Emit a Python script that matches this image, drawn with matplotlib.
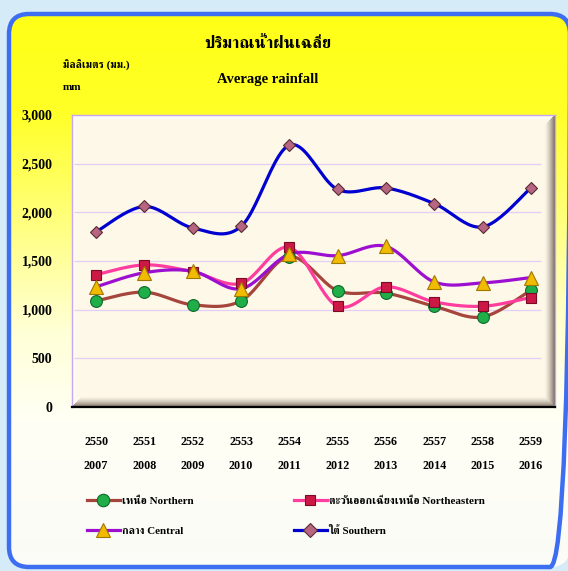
import numpy as np
import matplotlib
matplotlib.use('Agg')
import matplotlib.pyplot as plt
from matplotlib.patches import FancyBboxPatch
from matplotlib.lines import Line2D
from matplotlib import font_manager
from matplotlib.ft2font import FT2Font
import matplotlib.transforms as mtrans

# ---------------- data ----------------
be_years = ['2550', '2551', '2552', '2553', '2554', '2555', '2556', '2557', '2558', '2559']
ce_years = ['2007', '2008', '2009', '2010', '2011', '2012', '2013', '2014', '2015', '2016']
northern = [1090, 1180, 1050, 1090, 1545, 1195, 1170, 1035, 925, 1200]
northeastern = [1360, 1460, 1390, 1270, 1640, 1035, 1235, 1080, 1035, 1125]
central = [1235, 1380, 1395, 1215, 1570, 1555, 1650, 1285, 1275, 1330]
southern = [1800, 2060, 1840, 1855, 2690, 2235, 2250, 2090, 1850, 2250]
y_ticks = [0, 500, 1000, 1500, 2000, 2500, 3000]
series_names = ['เหนือ Northern', 'ตะวันออกเฉียงเหนือ Northeastern', 'กลาง Central', 'ใต้ Southern']
title_th = 'ปริมาณน้ำฝนเฉลี่ย'
title_en = 'Average rainfall'
unit_th = 'มิลลิเมตร (มม.)'
unit_en = 'mm'

# ---------------- fonts ----------------
def find_thai_font():
    found = []
    for fe in font_manager.fontManager.ttflist:
        try:
            cm = FT2Font(fe.fname).get_charmap()
        except Exception:
            continue
        if 0x0E1B in cm and 0x0E34 in cm:
            found.append(fe)
    if not found:
        return 'DejaVu Sans'
    def score(fe):
        s = 0
        if 'serif' in fe.name.lower() and 'sans' not in fe.name.lower():
            s += 2
        if fe.weight in ('bold', 700) or str(fe.weight) == '700':
            s += 1
        return -s
    found.sort(key=score)
    return found[0].name

thai_font = find_thai_font()
SERIF = 'Liberation Serif'
FAM = [SERIF, thai_font, 'DejaVu Sans']

W, H = 568, 571
fig = plt.figure(figsize=(W / 100, H / 100), dpi=100)
fig.patch.set_facecolor('#d5ebf8')

# background axes in pixel coords
bg = fig.add_axes([0, 0, 1, 1])
bg.set_xlim(0, W)
bg.set_ylim(H, 0)
bg.axis('off')
bg.set_zorder(0)

PX, PY, PW, PH = 9, 14, 561, 553
panel = FancyBboxPatch((PX, PY), PW, PH, boxstyle='round,pad=0,rounding_size=20',
                       facecolor='none', edgecolor='#3d6ef2', lw=3.2, zorder=3)
bg.add_patch(panel)

# vertical gradient yellow -> white
rows = np.arange(H)
stops_y = [0, 110, 230, 330, 420, H]
stops_b = [0.08, 0.15, 0.52, 0.84, 0.96, 0.97]
b = np.interp(rows, stops_y, stops_b)
rg = np.interp(rows, [0, 420, H], [1.0, 1.0, 0.985])
grad = np.zeros((H, 1, 3))
grad[:, 0, 0] = rg
grad[:, 0, 1] = rg
grad[:, 0, 2] = b
im = bg.imshow(grad, extent=[0, W, H, 0], aspect='auto', zorder=1)
clip = FancyBboxPatch((PX, PY), PW, PH, boxstyle='round,pad=0,rounding_size=20',
                      facecolor='none', edgecolor='none', transform=bg.transData)
im.set_clip_path(clip)

# plot area with bevel
L, R, T, B = 72, 555, 115, 407
pw, ph = R - L, B - T
xx, yy = np.meshgrid(np.arange(pw) + 0.5, np.arange(ph) + 0.5)
dl, dr, dt, db = xx, pw - xx, yy, ph - yy
base = np.array([253, 248, 232]) / 255.0
dark = np.array([118, 104, 92]) / 255.0
white = np.array([1.0, 1.0, 1.0])
img = np.ones((ph, pw, 3)) * base
band = 11.0
dmin = np.minimum(np.minimum(dl, dr), np.minimum(dt, db))
f_dark = np.where((np.minimum(dr, db) == dmin) & (dmin < band), (1 - dmin / band) ** 1.6, 0)
f_white = np.where((np.minimum(dl, dt) == dmin) & (dmin < 6) & (f_dark == 0), (1 - dmin / 6) * 0.8, 0)
img = img * (1 - f_dark[..., None]) + dark * f_dark[..., None]
img = img * (1 - f_white[..., None]) + white * f_white[..., None]
bg.imshow(img, extent=[L, R, B, T], aspect='auto', zorder=2, interpolation='bilinear')

# main axes
ax = fig.add_axes([L / W, 1 - B / H, pw / W, ph / H])
ax.set_zorder(2)
ax.patch.set_alpha(0)
ax.set_xlim(-0.5, 9.5)
ax.set_ylim(0, 3000)
for s in ['left', 'top', 'right']:
    ax.spines[s].set_color('#c9a6f2')
    ax.spines[s].set_linewidth(1.0)
ax.spines['bottom'].set_color('#000000')
ax.spines['bottom'].set_linewidth(1.6)
ax.hlines(y_ticks[1:], -0.45, 9.22, colors='#e4cdf7', lw=0.9, zorder=1)
ax.set_yticks(y_ticks)
ax.set_yticklabels([f'{v:,}' for v in y_ticks], fontfamily=SERIF, fontweight='bold', fontsize=10)
ax.tick_params(axis='y', length=0, pad=14)
ax.set_xticks([])

x = np.arange(len(be_years))

def smooth(xs, ys, n=24):
    P = np.column_stack([xs, ys]).astype(float)
    out = []
    for i in range(len(P) - 1):
        p0 = P[i - 1] if i > 0 else P[i]
        p1, p2 = P[i], P[i + 1]
        p3 = P[i + 2] if i + 2 < len(P) else P[i + 1]
        c1 = p1 + (p2 - p0) / 6.0
        c2 = p2 - (p3 - p1) / 6.0
        t = np.linspace(0, 1, n)[:, None]
        seg = ((1 - t) ** 3) * p1 + 3 * ((1 - t) ** 2) * t * c1 + 3 * (1 - t) * t ** 2 * c2 + t ** 3 * p2
        out.append(seg if i == 0 else seg[1:])
    out = np.vstack(out)
    return out[:, 0], out[:, 1]

styles = [
    dict(data=northern, lc='#a5453c', marker='o', mfc='#1fae48', mec='#0d6a2a', ms=8.5),
    dict(data=northeastern, lc='#ff3d9e', marker='s', mfc='#cc1845', mec='#7a0a25', ms=7),
    dict(data=central, lc='#9d0fd0', marker='^', mfc='#f0bb00', mec='#a07800', ms=9.5),
    dict(data=southern, lc='#0000d0', marker='D', mfc='#b66680', mec='#5a2a35', ms=6.5),
]
for st in styles:
    sx, sy = smooth(x, st['data'])
    ax.plot(sx, sy, color=st['lc'], lw=2.3, zorder=3, solid_capstyle='round')
for st in styles:
    ax.plot(x, st['data'], ls='none', marker=st['marker'], ms=st['ms'], mfc=st['mfc'],
            mec=st['mec'], mew=0.8, zorder=4)

# x labels (two rows)
tr = mtrans.blended_transform_factory(ax.transData, bg.transData)
for i in range(len(be_years)):
    ax.text(x[i], 442, be_years[i], transform=tr, ha='center', va='center',
            fontfamily=SERIF, fontweight='bold', fontsize=8.7, clip_on=False)
    ax.text(x[i], 466, ce_years[i], transform=tr, ha='center', va='center',
            fontfamily=SERIF, fontweight='bold', fontsize=8.7, clip_on=False)

# titles
bg.text(268, 44, title_th, ha='center', va='center', family=FAM, fontweight='bold', fontsize=12, zorder=5)
bg.text(268, 79, title_en, ha='center', va='center', family=FAM, fontweight='bold', fontsize=10.5, zorder=5)
bg.text(63, 65, unit_th, ha='left', va='center', family=FAM, fontweight='bold', fontsize=7.8, zorder=5)
bg.text(63, 88, unit_en, ha='left', va='center', family=FAM, fontweight='bold', fontsize=8, zorder=5)

# legend (one per entry, positioned)
anchors = [(87, 501), (294, 501), (87, 531), (294, 531)]
for st, name, (px, py) in zip(styles, series_names, anchors):
    h = Line2D([], [], color=st['lc'], lw=2.3, marker=st['marker'], ms=st['ms'] + 0.5,
               mfc=st['mfc'], mec=st['mec'], mew=0.8)
    fig.legend([h], [name], loc='center left', bbox_to_anchor=(px / W, 1 - py / H),
               frameon=False, borderpad=0, borderaxespad=0, handlelength=3.0,
               handletextpad=0.15, prop=dict(family=FAM, weight='bold', size=7.9))

fig.savefig('out.png', dpi=100, facecolor=fig.get_facecolor())
